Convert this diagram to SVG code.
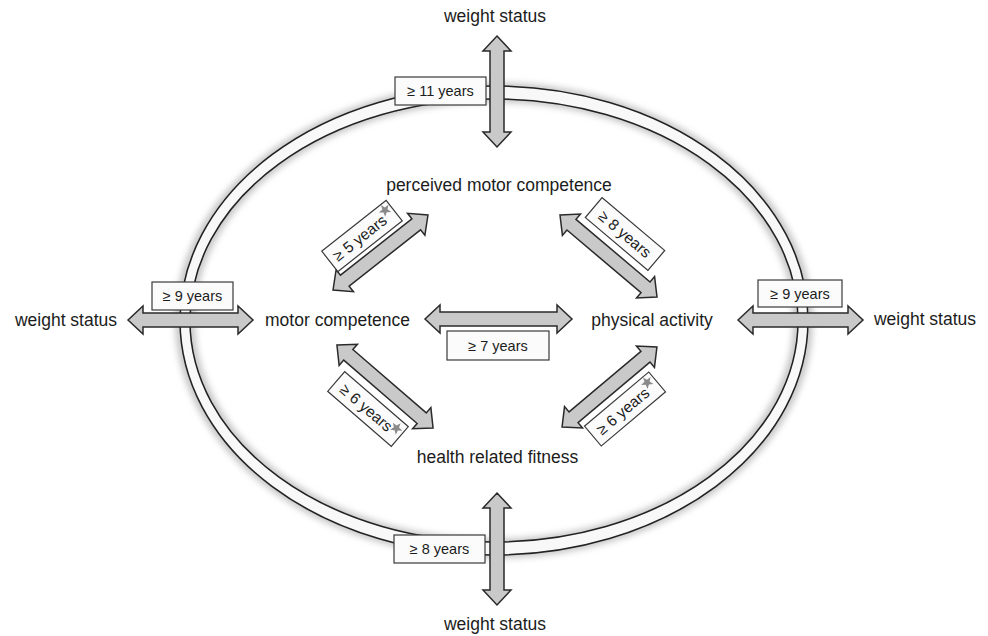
<svg xmlns="http://www.w3.org/2000/svg" width="988" height="636" viewBox="0 0 988 636">
<defs>
<style>
.t{font-family:"Liberation Sans",Arial,sans-serif;font-size:17.5px;fill:#1c1c1c;text-anchor:middle}
.lt{font-family:"Liberation Sans",Arial,sans-serif;font-size:14.5px;fill:#1c1c1c;text-anchor:middle}
.dt{font-family:"Liberation Sans",Arial,sans-serif;font-size:15.5px;fill:#1c1c1c;text-anchor:middle}
.arr{fill:#c9c9c9;stroke:#2a2a2a;stroke-width:1.5;stroke-linejoin:miter}
.box{fill:#fbfbfb;stroke:#3a3a3a;stroke-width:1.2}
.ring{fill:none;stroke:#222;stroke-width:1.6}
.star{fill:#8a8a8a}
</style>
<filter id="blur" x="-10%" y="-10%" width="120%" height="120%"><feGaussianBlur stdDeviation="3"/></filter>
<path id="starp" d="M0,-6.5 L1.59,-2.18 L6.18,-2.01 L2.57,0.83 L3.82,5.26 L0,2.7 L-3.82,5.26 L-2.57,0.83 L-6.18,-2.01 L-1.59,-2.18 Z"/>
</defs>
<rect width="988" height="636" fill="#ffffff"/>
<g id="ring">
<ellipse cx="494" cy="320.5" rx="309" ry="228" fill="none" stroke="#c8c8c8" stroke-width="20" filter="url(#blur)"/>
<ellipse cx="494" cy="320.5" rx="309" ry="228" fill="none" stroke="#f8f8f8" stroke-width="12"/>
<ellipse class="ring" cx="494" cy="320.5" rx="314" ry="234.5"/>
<ellipse class="ring" cx="494" cy="320.5" rx="304" ry="221.5" fill="#ffffff"/>
</g>
<g id="connectors">
<path class="arr" transform="translate(497,91.5) rotate(90)" d="M-55.5,0 L-40.5,-14 L-40.5,-7 L40.5,-7 L40.5,-14 L55.5,0 L40.5,14 L40.5,7 L-40.5,7 L-40.5,14 Z"/>
<path class="arr" transform="translate(497,549) rotate(90)" d="M-56,0 L-41,-14 L-41,-7 L41,-7 L41,-14 L56,0 L41,14 L41,7 L-41,7 L-41,14 Z"/>
<path class="arr" transform="translate(190.5,320)" d="M-62.5,0 L-47.5,-14 L-47.5,-7 L47.5,-7 L47.5,-14 L62.5,0 L47.5,14 L47.5,7 L-47.5,7 L-47.5,14 Z"/>
<path class="arr" transform="translate(800.5,320)" d="M-62.5,0 L-47.5,-14 L-47.5,-7 L47.5,-7 L47.5,-14 L62.5,0 L47.5,14 L47.5,7 L-47.5,7 L-47.5,14 Z"/>
<path class="arr" transform="translate(498.5,319)" d="M-73.5,0 L-58.5,-14 L-58.5,-7 L58.5,-7 L58.5,-14 L73.5,0 L58.5,14 L58.5,7 L-58.5,7 L-58.5,14 Z"/>
<path class="arr" transform="translate(380.5,252.5) rotate(-38.3)" d="M-60.5,0 L-45.5,-14 L-45.5,-7 L45.5,-7 L45.5,-14 L60.5,0 L45.5,14 L45.5,7 L-45.5,7 L-45.5,14 Z"/>
<path class="arr" transform="translate(608.5,256) rotate(40.2)" d="M-63.5,0 L-48.5,-14 L-48.5,-7 L48.5,-7 L48.5,-14 L63.5,0 L48.5,14 L48.5,7 L-48.5,7 L-48.5,14 Z"/>
<path class="arr" transform="translate(385,386.5) rotate(40.8)" d="M-63.5,0 L-48.5,-14 L-48.5,-7 L48.5,-7 L48.5,-14 L63.5,0 L48.5,14 L48.5,7 L-48.5,7 L-48.5,14 Z"/>
<path class="arr" transform="translate(609.5,387) rotate(-40.1)" d="M-62,0 L-47,-14 L-47,-7 L47,-7 L47,-14 L62,0 L47,14 L47,7 L-47,7 L-47,14 Z"/>
</g>
<g id="labels">
<g id="lab-top"><rect class="box" x="395" y="77" width="91" height="28"/><text class="lt" x="440.5" y="96">≥ 11 years</text></g>
<g id="lab-bottom"><rect class="box" x="394" y="535" width="91" height="28"/><text class="lt" x="439.5" y="554">≥ 8 years</text></g>
<g id="lab-left"><rect class="box" x="152" y="282" width="81" height="28"/><text class="lt" x="192.5" y="301">≥ 9 years</text></g>
<g id="lab-right"><rect class="box" x="758" y="280" width="84" height="27"/><text class="lt" x="800" y="298.5">≥ 9 years</text></g>
<g id="lab-mid"><rect class="box" x="447" y="331" width="102" height="29"/><text class="lt" x="498" y="350.5">≥ 7 years</text></g>
<g id="lab-ul" transform="translate(362,236) rotate(-38.3)"><rect class="box" x="-41" y="-13" width="82" height="26"/><text class="dt" x="-3" y="5.5">≥ 5 years</text><use href="#starp" class="star" transform="translate(34,-6)"/></g>
<g id="lab-ur" transform="translate(625,234) rotate(40.2)"><rect class="box" x="-41" y="-13" width="82" height="26"/><text class="dt" x="0" y="5.5">≥ 8 years</text></g>
<g id="lab-ll" transform="translate(368,409) rotate(40.8)"><rect class="box" x="-42" y="-13" width="84" height="26"/><text class="dt" x="-2" y="5.5">≥ 6 years</text><use href="#starp" class="star" transform="translate(34,-4)"/></g>
<g id="lab-lr" transform="translate(625,409) rotate(-40.1)"><rect class="box" x="-42" y="-13" width="84" height="26"/><text class="dt" x="-3" y="5.5">≥ 6 years</text><use href="#starp" class="star" transform="translate(34,-6)"/></g>
</g>
<g id="node-ws-top"><text class="t" x="495" y="22">weight status</text></g>
<g id="node-pmc"><text class="t" x="499" y="191">perceived motor competence</text></g>
<g id="node-mc"><text class="t" x="337.5" y="326">motor competence</text></g>
<g id="node-pa"><text class="t" x="652" y="326">physical activity</text></g>
<g id="node-hrf"><text class="t" x="497.5" y="463">health related fitness</text></g>
<g id="node-ws-left"><text class="t" x="66" y="326">weight status</text></g>
<g id="node-ws-right"><text class="t" x="925" y="325">weight status</text></g>
<g id="node-ws-bottom"><text class="t" x="495" y="630">weight status</text></g>
</svg>
